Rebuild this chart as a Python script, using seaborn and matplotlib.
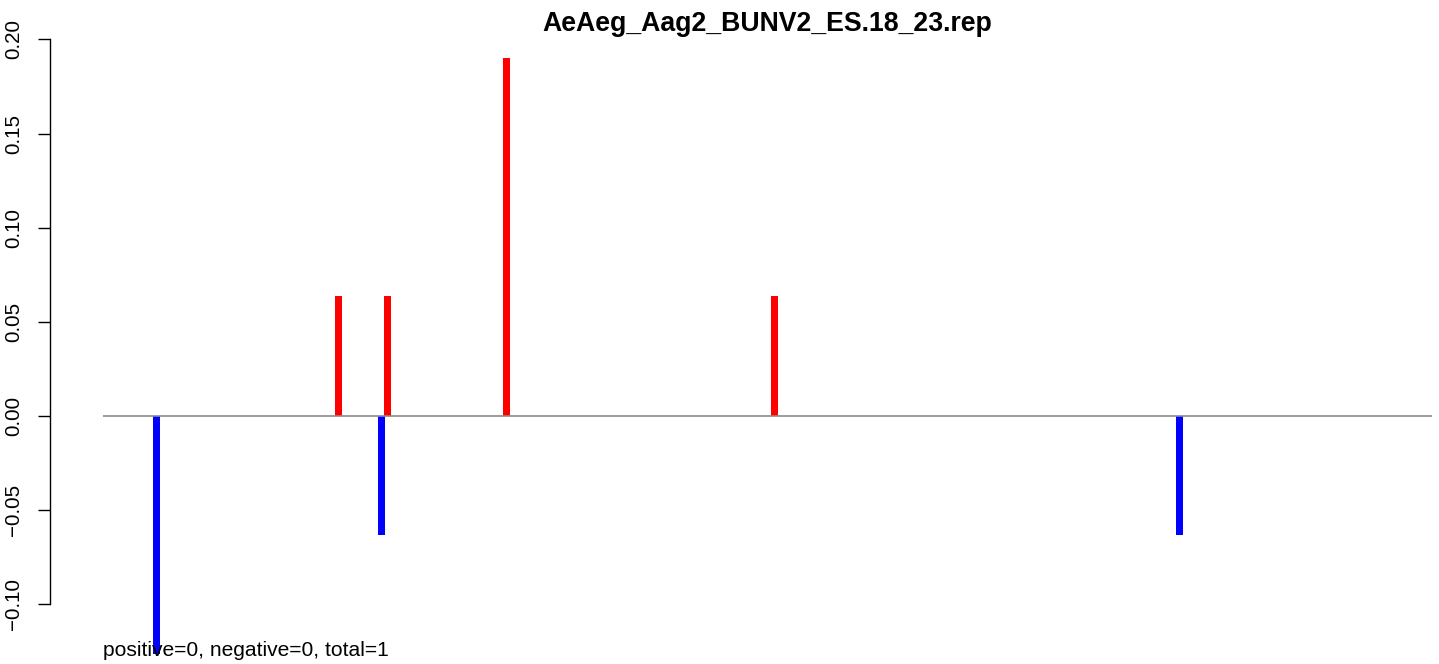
#!/usr/bin/env python3
"""Signed per-position counts for one library, R-style bar/needle plot."""

import matplotlib
matplotlib.use("Agg")
import matplotlib.pyplot as plt
import seaborn as sns
import numpy as np
import pandas as pd

title = "AeAeg_Aag2_BUNV2_ES.18_23.rep"
footer = "positive=0, negative=0, total=1"

# positions along the sequence and normalised signed counts
positions = [53, 236, 279, 285, 404, 672, 1077]
values = [-0.1268, 0.0634, -0.0634, 0.0634, 0.1902, 0.0634, -0.0634]
seq_len = 1330
y_ticks = [-0.10, -0.05, 0.00, 0.05, 0.10, 0.15, 0.20]


def main() -> None:
    df = pd.DataFrame({"pos": positions, "value": values})
    df["strand"] = np.where(df["value"] > 0, "plus", "minus")

    sns.set_style("ticks")
    plt.rcParams["font.family"] = ["Liberation Sans", "DejaVu Sans"]
    plt.rcParams["text.color"] = "black"
    plt.rcParams["ytick.color"] = "black"
    plt.rcParams["ytick.labelcolor"] = "black"

    W, H = 1439, 664
    fig = plt.figure(figsize=(W / 100, H / 100), dpi=100)
    # R plot region runs past the right and bottom edges of the image
    ax = fig.add_axes([50 / W, (H - 678.3) / H, 1435 / W, 644.3 / H])

    min_gap = np.min(np.diff(np.unique(positions)))
    sns.barplot(data=df, x="pos", y="value", hue="strand", native_scale=True,
                palette={"plus": "#FF0000", "minus": "#0000FF"}, saturation=1,
                width=7 / min_gap, dodge=False, errorbar=None, linewidth=0,
                legend=False, ax=ax)

    ax.plot([0, seq_len], [0, 0], color="#8a8a8a", lw=1.2, zorder=5,
            solid_capstyle="butt")

    ext = 0.04
    ax.set_xlim(-ext * seq_len, seq_len * (1 + ext))
    lo, hi = min(values), max(values)
    rng = hi - lo
    ax.set_ylim(lo - ext * rng, hi + ext * rng)

    for side in ("top", "right", "bottom"):
        ax.spines[side].set_visible(False)
    ax.spines["left"].set_bounds(y_ticks[0], y_ticks[-1])
    ax.spines["left"].set_linewidth(1.0)
    ax.spines["left"].set_color("black")
    ax.set_yticks(y_ticks)
    ax.set_yticklabels([f"{t:.2f}".replace("-", "\u2212") for t in y_ticks])
    ax.tick_params(axis="y", length=8.6, width=1.0, pad=11, labelsize=14.8,
                   colors="black", labelcolor="black")
    for lab in ax.get_yticklabels():
        lab.set_rotation(90)
        lab.set_va("center")
    ax.set_xticks([])
    ax.set_xlabel("")
    ax.set_ylabel("")
    ax.set_facecolor("white")
    ax.grid(False)

    fig.text(767.5 / W, (H - 31) / H, title, ha="center", va="baseline",
             fontsize=19.2, fontweight="bold", color="black")
    fig.text(103 / W, (H - 656) / H, footer, ha="left", va="baseline",
             fontsize=15.1, color="black")

    fig.savefig("out.png", dpi=100)
    plt.close(fig)


if __name__ == "__main__":
    main()
